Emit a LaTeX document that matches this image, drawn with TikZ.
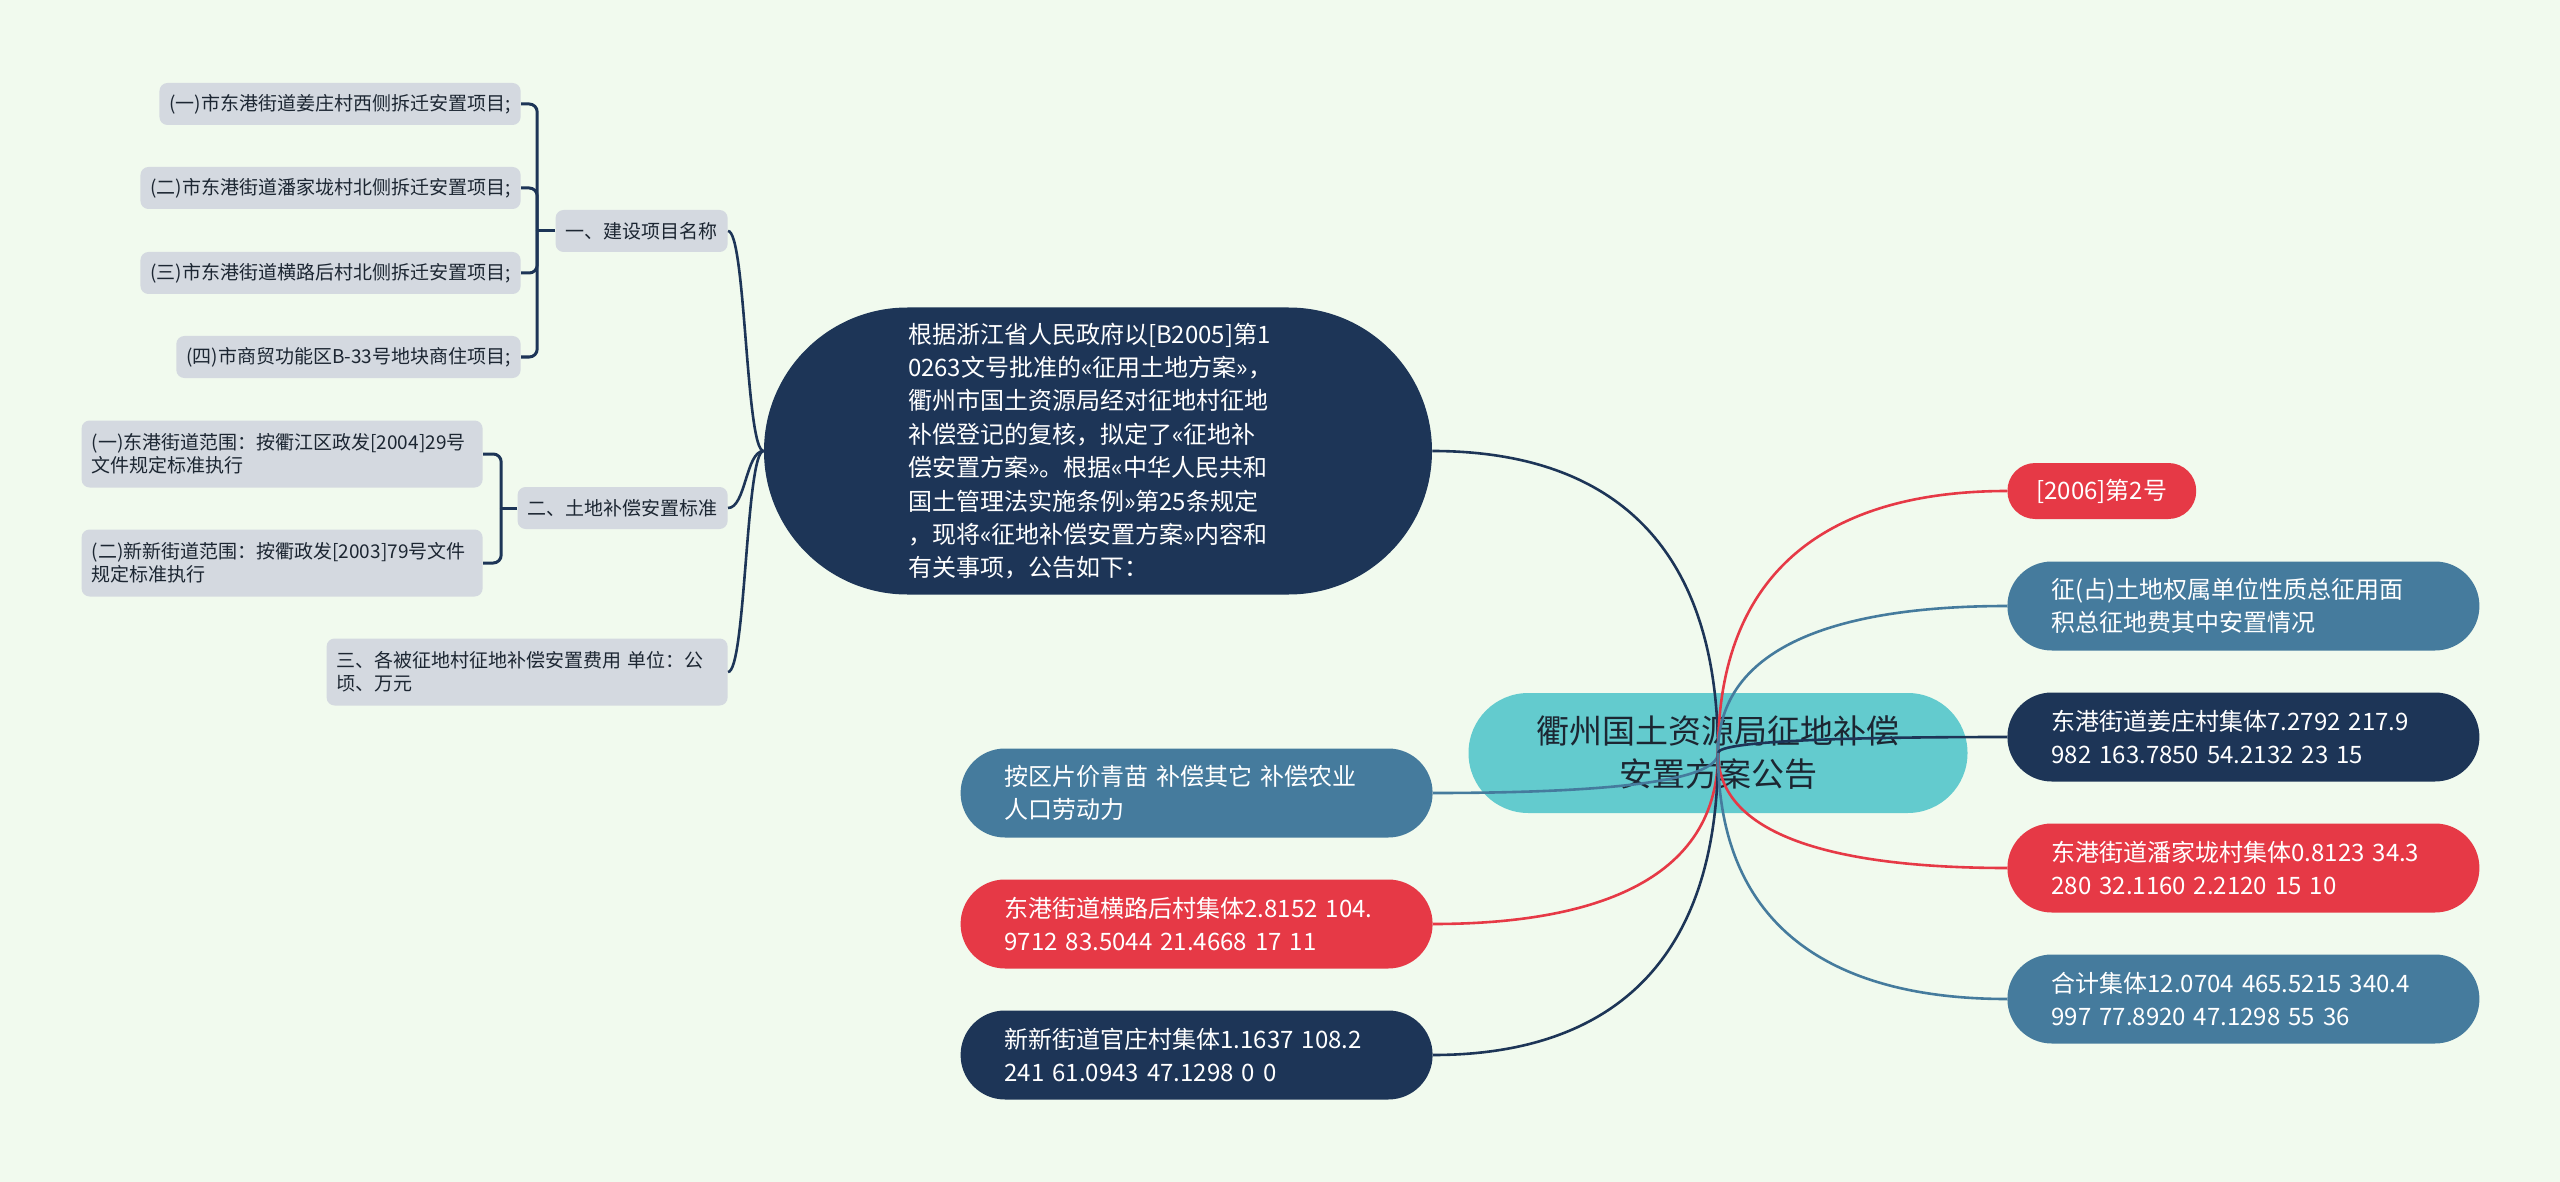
\documentclass[tikz,border=0pt]{standalone}
\usepackage{fontspec}
\setmainfont{Noto Sans CJK SC}
\usepackage{xcolor}
\usetikzlibrary{calc}

\definecolor{mmBg}{RGB}{241,250,238}
\definecolor{mmNavy}{RGB}{29,53,87}
\definecolor{mmRed}{RGB}{230,57,70}
\definecolor{mmBlue}{RGB}{69,123,157}
\definecolor{mmTeal}{RGB}{99,203,206}
\definecolor{mmGrey}{RGB}{212,217,224}
\definecolor{mmInk}{RGB}{28,38,50}

\tikzset{
    rootbox/.style = {fill=mmTeal, text=mmInk, rounded corners=29.9pt, minimum width=249.5pt,
        minimum height=60pt, align=center, font=\fontsize{16.5pt}{21.5pt}\selectfont},
    mainbox/.style = {fill=mmNavy, text=white, rounded corners=71.7pt, minimum width=334pt,
        minimum height=143.5pt, text width=190pt, align=left, font=\fontsize{12pt}{16.7pt}\selectfont},
    leafbox/.style = {text=white, rounded corners=22.2pt, minimum height=44.5pt, inner xsep=22pt,
        text width=192pt, align=left, font=\fontsize{12pt}{16.5pt}\selectfont},
    tagbox/.style = {fill=mmRed, text=white, rounded corners=13.9pt, minimum height=28pt,
        inner xsep=14.5pt, font=\fontsize{12pt}{16.5pt}\selectfont},
    greybox/.style = {fill=mmGrey, text=mmInk, rounded corners=4pt, inner xsep=5pt, inner ysep=2pt,
        minimum height=21pt, font=\fontsize{9.5pt}{11.5pt}\selectfont},
    widegrey/.style = {greybox, text width=190.5pt, align=left, minimum height=33.5pt},
    link/.style = {line width=1.3pt},
    brace/.style = {mmNavy, line width=1.5pt, rounded corners=4pt}
}

\begin{document}
\begin{tikzpicture}[x=0.5pt, y=-0.5pt]
    \useasboundingbox (0,0) rectangle (2560,1182);
    \fill[mmBg] (0,0) rectangle (2560,1182);

    \node[rootbox] (root) at (1718,753) {衢州国土资源局征地补偿\\安置方案公告};

    \node[mainbox] (M) at (1098,451) {根据浙江省人民政府以[B2005]第1\\0263文号批准的«征用土地方案»，\\衢州市国土资源局经对征地村征地\\补偿登记的复核，拟定了«征地补\\偿安置方案»。根据«中华人民共和\\国土管理法实施条例»第25条规定\\，现将«征地补偿安置方案»内容和\\有关事项，公告如下：};

    \begin{scope}
        \node[tagbox, anchor=west] (R1) at (2007,491) {[2006]第2号};
        \node[leafbox, fill=mmBlue, anchor=west] (R2) at (2007,606) {征(占)土地权属单位性质总征用面\\积总征地费其中安置情况};
        \node[leafbox, fill=mmNavy, anchor=west] (R3) at (2007,737) {东港街道姜庄村集体7.2792 217.9\\982 163.7850 54.2132 23 15};
        \node[leafbox, fill=mmRed, anchor=west] (R4) at (2007,868) {东港街道潘家垅村集体0.8123 34.3\\280 32.1160 2.2120 15 10};
        \node[leafbox, fill=mmBlue, anchor=west] (R5) at (2007,999) {合计集体12.0704 465.5215 340.4\\997 77.8920 47.1298 55 36};

        \node[leafbox, fill=mmBlue, anchor=east] (B1) at (1433,793) {按区片价青苗 补偿其它 补偿农业\\人口劳动力};
        \node[leafbox, fill=mmRed, anchor=east] (B2) at (1433,924) {东港街道横路后村集体2.8152 104.\\9712 83.5044 21.4668 17 11};
        \node[leafbox, fill=mmNavy, anchor=east] (B3) at (1433,1055) {新新街道官庄村集体1.1637 108.2\\241 61.0943 47.1298 0 0};
    \end{scope}

    \begin{scope}
        \node[greybox, anchor=east] (L1) at (728,231) {一、建设项目名称};
        \node[greybox, anchor=east] (L1a) at (521,104) {(一)市东港街道姜庄村西侧拆迁安置项目;};
        \node[greybox, anchor=east] (L1b) at (521,188) {(二)市东港街道潘家垅村北侧拆迁安置项目;};
        \node[greybox, anchor=east] (L1c) at (521,273) {(三)市东港街道横路后村北侧拆迁安置项目;};
        \node[greybox, anchor=east] (L1d) at (521,357) {(四)市商贸功能区B-33号地块商住项目;};

        \node[greybox, anchor=east] (L2) at (728,508) {二、土地补偿安置标准};
        \node[widegrey, anchor=east] (L2a) at (483,454) {(一)东港街道范围：按衢江区政发[2004]29号\\文件规定标准执行};
        \node[widegrey, anchor=east] (L2b) at (483,563) {(二)新新街道范围：按衢政发[2003]79号文件\\规定标准执行};

        \node[widegrey, anchor=east] (L3) at (728,672) {三、各被征地村征地补偿安置费用 单位：公\\顷、万元};
    \end{scope}

    \coordinate (s1) at ($(L1.west)+(-18,0)$);
    \coordinate (s2) at ($(L2.west)+(-16,0)$);
    \draw[brace] (L1.west) -- (s1);
    \draw[brace] (L2.west) -- (s2);
    \foreach \t in {L1a,L1b,L1c,L1d}
        \draw[brace] (s1) |- (\t.east);
    \foreach \t in {L2a,L2b}
        \draw[brace] (s2) |- (\t.east);

    \foreach \t in {L1,L2,L3}
        \draw[link, mmNavy] (M.west) .. controls ($(M.west)!0.5!(M.west -| \t.east)$)
            and ($(\t.east)!0.5!(\t.east -| M.west)$) .. (\t.east);

    \foreach \t/\a/\c in {M/east/mmNavy, B1/east/mmBlue, B2/east/mmRed, B3/east/mmNavy,
        R1/west/mmRed, R2/west/mmBlue, R3/west/mmNavy, R4/west/mmRed, R5/west/mmBlue}
        \draw[link, \c] (root.center) .. controls ($(root.center)!0.8!(root.center |- \t.\a)$)
            and ($(\t.\a)!0.5!(\t.\a -| root.center)$) .. (\t.\a);

\end{tikzpicture}
\end{document}
